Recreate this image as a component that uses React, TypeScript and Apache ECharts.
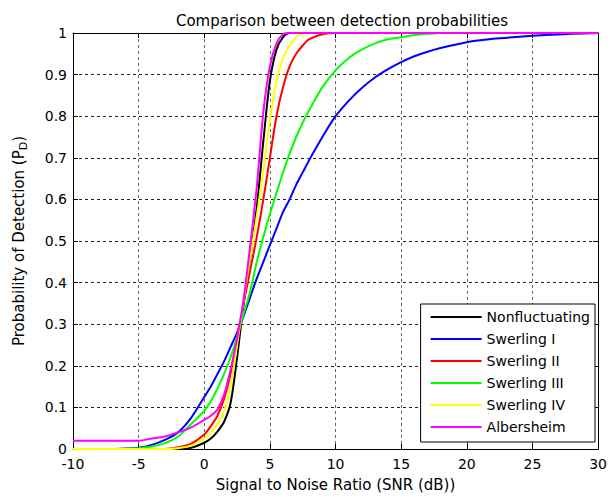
import React, { useEffect, useRef } from "react";
import * as echarts from "echarts";

const snr = [-10, -9, -8, -7, -6, -5, -4, -3, -2, -1, 0, 0.5, 1, 1.5, 2, 2.5, 3, 3.5, 4, 4.5, 5, 5.5, 6, 6.5, 7, 7.5, 8, 9, 10, 11, 12, 13, 14, 15, 16, 17, 18, 20, 22, 24, 26, 28, 30];

const nonfluctuating = [0, 0, 0, 0, 0, 0, 0, 0, 0, 0.003, 0.015, 0.025, 0.042, 0.065, 0.11, 0.22, 0.35, 0.46, 0.58, 0.74, 0.885, 0.96, 0.99, 1, 1, 1, 1, 1, 1, 1, 1, 1, 1, 1, 1, 1, 1, 1, 1, 1, 1, 1, 1];
const swerling1 = [0, 0, 0, 0, 0.001, 0.003, 0.01, 0.022, 0.04, 0.075, 0.125, 0.15, 0.18, 0.21, 0.245, 0.28, 0.32, 0.365, 0.41, 0.45, 0.49, 0.53, 0.57, 0.6, 0.635, 0.665, 0.695, 0.75, 0.8, 0.837, 0.868, 0.893, 0.913, 0.93, 0.944, 0.955, 0.964, 0.978, 0.986, 0.991, 0.995, 0.998, 1];
const swerling2 = [0, 0, 0, 0, 0, 0, 0, 0, 0.004, 0.013, 0.035, 0.055, 0.08, 0.12, 0.18, 0.27, 0.35, 0.43, 0.51, 0.6, 0.7, 0.8, 0.87, 0.92, 0.95, 0.97, 0.985, 0.997, 1, 1, 1, 1, 1, 1, 1, 1, 1, 1, 1, 1, 1, 1, 1];
const swerling3 = [0, 0, 0, 0, 0, 0.002, 0.006, 0.014, 0.03, 0.06, 0.092, 0.115, 0.145, 0.18, 0.22, 0.27, 0.325, 0.38, 0.45, 0.51, 0.565, 0.615, 0.665, 0.71, 0.75, 0.785, 0.815, 0.87, 0.91, 0.94, 0.96, 0.975, 0.985, 0.99, 0.995, 0.998, 1, 1, 1, 1, 1, 1, 1];
const swerling4 = [0, 0, 0, 0, 0, 0, 0, 0, 0.002, 0.008, 0.025, 0.04, 0.06, 0.09, 0.15, 0.25, 0.36, 0.46, 0.56, 0.67, 0.79, 0.885, 0.94, 0.97, 0.99, 0.998, 1, 1, 1, 1, 1, 1, 1, 1, 1, 1, 1, 1, 1, 1, 1, 1, 1];
const albersheim = [0.02, 0.02, 0.02, 0.02, 0.02, 0.02, 0.025, 0.03, 0.04, 0.052, 0.07, 0.08, 0.095, 0.13, 0.19, 0.265, 0.36, 0.49, 0.63, 0.81, 0.92, 0.975, 0.997, 1, 1, 1, 1, 1, 1, 1, 1, 1, 1, 1, 1, 1, 1, 1, 1, 1, 1, 1, 1];

const seriesNames = ["Nonfluctuating", "Swerling I", "Swerling II", "Swerling III", "Swerling IV", "Albersheim"];
const seriesColors = ["#000000", "#0000ff", "#ff0000", "#00ff00", "#ffff00", "#ff00ff"];
const seriesValues = [nonfluctuating, swerling1, swerling2, swerling3, swerling4, albersheim];

const FONT = "DejaVu Sans";

export default function App() {
  const ref = useRef<HTMLDivElement>(null);
  useEffect(() => {
    if (!ref.current) return;
    const chart = echarts.init(ref.current, undefined, { renderer: "svg" });
    const axisCommon = {
      axisLine: { show: true, onZero: false, lineStyle: { color: "#000", width: 1 } },
      axisTick: { show: true, inside: true, length: 5, lineStyle: { color: "#000" } },
    };
    chart.setOption({
      animation: false,
      backgroundColor: "#fff",
      title: {
        text: "Comparison between detection probabilities",
        left: 337,
        top: 8,
        textAlign: "center",
        textStyle: { fontFamily: FONT, fontSize: 15, fontWeight: "normal", color: "#000" },
      },
      grid: { left: 73, right: 9, top: 33, bottom: 48 },
      legend: {
        data: seriesNames,
        orient: "vertical",
        right: 15,
        top: 304,
        icon: "rect",
        itemWidth: 51,
        itemHeight: 2,
        itemGap: 0,
        padding: [2, 5, 4, 10],
        borderColor: "#000",
        borderWidth: 1,
        backgroundColor: "#fff",
        textStyle: { fontFamily: FONT, fontSize: 14, color: "#000", lineHeight: 22 },
      },
      xAxis: [
        {
          type: "value",
          min: -10,
          max: 30,
          interval: 5,
          ...axisCommon,
          axisLabel: { fontFamily: FONT, fontSize: 14, color: "#000", margin: 8 },
          splitLine: { show: true, lineStyle: { color: "#666", type: [3, 3], width: 1 } },
          name: "Signal to Noise Ratio (SNR (dB))",
          nameLocation: "middle",
          nameGap: 28,
          nameTextStyle: { fontFamily: FONT, fontSize: 15, color: "#000" },
        },
        {
          type: "value",
          position: "top",
          min: -10,
          max: 30,
          interval: 5,
          ...axisCommon,
          axisLabel: { show: false },
          splitLine: { show: false },
        },
      ],
      yAxis: [
        {
          type: "value",
          min: 0,
          max: 1,
          interval: 0.1,
          ...axisCommon,
          axisLabel: { fontFamily: FONT, fontSize: 14, color: "#000", margin: 6 },
          splitLine: { show: true, lineStyle: { color: "#222", type: [3, 3], width: 1 } },
          name: "{a|Probability of Detection (P}{b|D}{a|)}",
          nameLocation: "middle",
          nameRotate: 90,
          nameGap: 44,
          nameTextStyle: {
            rich: {
              a: { fontFamily: FONT, fontSize: 15, color: "#000", lineHeight: 20 },
              b: { fontFamily: FONT, fontSize: 11, color: "#000", lineHeight: 12, verticalAlign: "bottom" },
            },
          },
        },
        {
          type: "value",
          position: "right",
          min: 0,
          max: 1,
          interval: 0.1,
          ...axisCommon,
          axisLabel: { show: false },
          splitLine: { show: false },
        },
      ],
      series: seriesNames.map((name, i) => ({
        name,
        type: "line",
        xAxisIndex: 0,
        yAxisIndex: 0,
        showSymbol: false,
        symbol: "none",
        smooth: 0.3,
        data: snr.map((x, j) => [x, seriesValues[i][j]]),
        lineStyle: { color: seriesColors[i], width: 2 },
        itemStyle: { color: seriesColors[i] },
        z: 2 + i,
      })),
    });
    return () => chart.dispose();
  }, []);
  return <div ref={ref} style={{ position: "fixed", left: 0, top: 0, width: 610, height: 497 }} />;
}
